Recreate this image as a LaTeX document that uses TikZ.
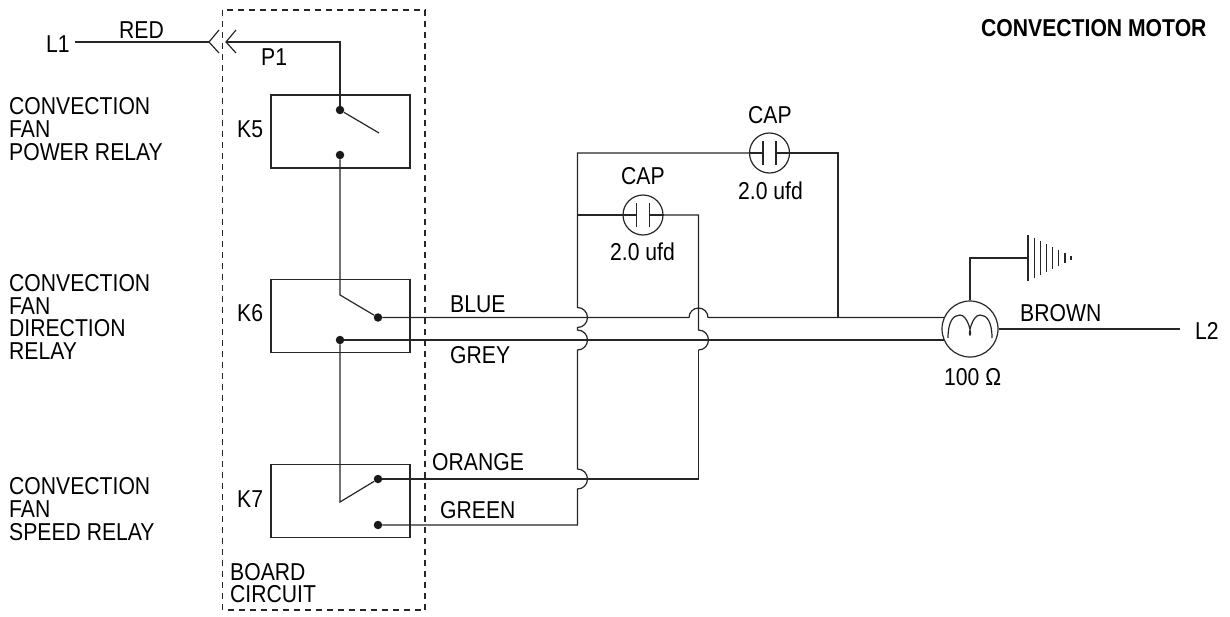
\documentclass[tikz,border=0pt]{standalone}
\usepackage{fontspec}
\setmainfont{Liberation Sans}[FakeStretch=0.867]
\usepackage{tikz}

\tikzset{
  label/.style={anchor=west,inner sep=0pt,align=left,font=\fontsize{24.4}{22.6}\selectfont},
  dot/.style={circle,fill=black!90,inner sep=0pt,minimum size=8.5pt},
  wire/.style={line width=1.2pt,black!85},
  relay/.style={draw=black!85,line width=1.2pt,inner sep=0pt,minimum width=139pt,minimum height=73pt},
  ring/.style={circle,draw=black!85,line width=1.2pt,inner sep=0pt},
}

\begin{document}
\begin{tikzpicture}[x=1pt,y=-1pt]
\useasboundingbox (0,0) rectangle (1230,616);
% board outline
\draw [wire,dash pattern=on 6pt off 5pt] (222.5,10) rectangle (425,610);
% relays
\node [relay] (k5) at (340.5,131.5) {};
\node [relay] (k6) at (340.5,316) {};
\node [relay] (k7) at (340.5,501) {};
\node [dot] (k5com) at (340,110) {};
\node [dot] (k5no) at (340,155) {};
\node [dot] (k6blue) at (378,317.5) {};
\node [dot] (k6grey) at (340,340) {};
\node [dot] (k7orange) at (378,479) {};
\node [dot] (k7green) at (378,525) {};
\coordinate (k5arm) at (379,133);
\coordinate (k6pivot) at (340,295);
\coordinate (k7pivot) at (340,502);
% capacitors and motor
\node [ring,minimum size=40pt] (cap1) at (769.5,153) {};
\node [ring,minimum size=40pt] (cap2) at (643,215) {};
\node [ring,minimum size=56pt] (motor) at (970,329) {};
% labels
\node [label] (l1) at (46,44) {L1};
\node [label] (red) at (119,30) {RED};
\node [label] (p1) at (261,57) {P1};
\node [label] (k5txt) at (237,129) {K5};
\node [label] (k6txt) at (237,313) {K6};
\node [label] (k7txt) at (237,499) {K7};
\node [label] (power) at (9,129) {CONVECTION\\FAN\\POWER RELAY};
\node [label] (direction) at (9,317) {CONVECTION\\FAN\\DIRECTION\\RELAY};
\node [label] (speed) at (9,509) {CONVECTION\\FAN\\SPEED RELAY};
\node [label] (board) at (230,583) {BOARD\\CIRCUIT};
\node [label] (blue) at (450,304) {BLUE};
\node [label] (grey) at (450,355) {GREY};
\node [label] (orange) at (432,462) {ORANGE};
\node [label] (green) at (440,510) {GREEN};
\node [label] (brown) at (1020,313) {BROWN};
\node [label] (l2) at (1195,331) {L2};
\node [label] (ohm) at (944,377) {100 Ω};
\node [label] (cap1top) at (748,115) {CAP};
\node [label] (cap1val) at (738,191) {2.0 ufd};
\node [label] (cap2top) at (621,176) {CAP};
\node [label] (cap2val) at (610,252) {2.0 ufd};
\node [label,font=\fontsize{24.4}{22}\selectfont\bfseries] (title) at (981,28) {CONVECTION MOTOR};
% line in and connector P1
\coordinate (plugl) at (209,42);
\coordinate (plugr) at (226,42);
\coordinate (l1end) at (75,42);
\draw [wire] (l1end) -- (plugl);
\draw [wire] (219,30) -- (plugl) -- (219,53);
\draw [wire] (236,30) -- (plugr) -- (236,53);
\draw [wire] (plugr) -| (k5com);
% relay contacts
\draw [wire] (k5com) -- (k5arm);
\draw [wire] (k5no) -- (k6pivot) -- (k6blue);
\draw [wire] (k6grey) -- (k7pivot) -- (k7orange);
% blue and grey to motor
\draw [wire] (k6blue) -- (689,317.5) arc [start angle=180,end angle=360,radius=9.5] -- (k6blue -| motor.156);
\draw [wire] (k6grey) -- (k6grey -| motor.204);
% orange to cap2
\draw [wire] (k7orange) -- (698.5,479) -- (698.5,350);
\draw [wire] (698.5,350) arc [start angle=90,end angle=-90,radius=10] -- (698.5,215) -- (cap2.east);
% green up to cap1
\draw [wire] (k7green) -- (577.5,525) -- (577.5,489)
  arc [start angle=90,end angle=-90,radius=10]
  -- (577.5,350) arc [start angle=90,end angle=-90,radius=10]
  -- (577.5,327.5) arc [start angle=90,end angle=-90,radius=10]
  -- (577.5,153) -- (cap1.west);
\draw [wire] (577.5,215) -- (cap2.west);
\draw [wire] (cap1.east) -- (838,153) -- (838,317.5);
% capacitor plates
\foreach \capn/\cx/\cy in {cap1/769.5/153,cap2/643/215} {
  \draw [wire] (\capn.west) -- (\cx-6.5,\cy);
  \draw [wire] (\capn.east) -- (\cx+6.5,\cy);
  \draw [wire] (\cx-6.5,\cy-12) -- (\cx-6.5,\cy+12);
  \draw [wire] (\cx+6.5,\cy-12) -- (\cx+6.5,\cy+12);
}
% motor winding, ground and L2
\draw [wire] (motor.north) |- (1028,258);
\foreach \i in {0,...,7}
  \draw [wire] ({1028+6.15*\i},{258-23+3*\i}) -- ({1028+6.15*\i},{258+23-3*\i});
\draw [wire] (948,338) .. controls (948,322) and (953,315) .. (960,315)
  .. controls (968,315) and (972,335) .. (970,335)
  .. controls (968,335) and (972,315) .. (980,315)
  .. controls (987,315) and (992,322) .. (992,338);
\coordinate (l2end) at (1180,329);
\draw [wire] (motor.east) -- (l2end);
\end{tikzpicture}
\end{document}
